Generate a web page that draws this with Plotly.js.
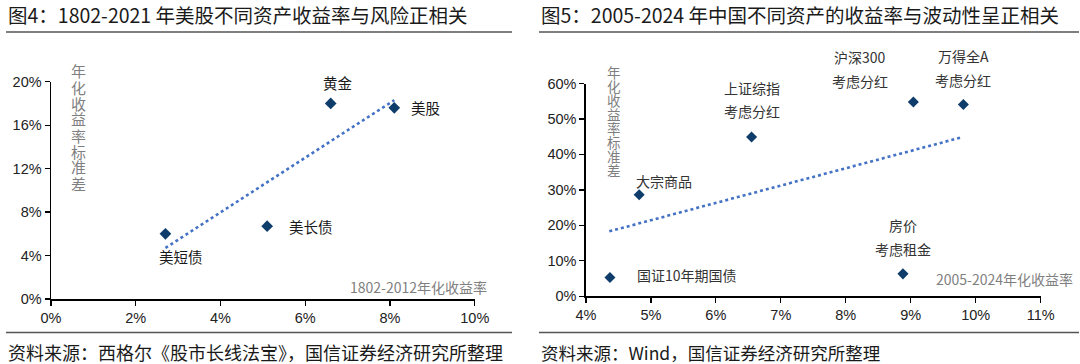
<!DOCTYPE html>
<html><head><meta charset="utf-8">
<script src="https://cdn.plot.ly/plotly-3.0.1.min.js"></script>
<style>html,body{margin:0;padding:0;background:#fff}#chart{width:1080px;height:364px}</style>
</head><body><div id="chart"></div>
<script>
// ---- Figure 4 data (US assets, 1802-2012) ----
const usNames = ['美短债', '美长债', '黄金', '美股'];
const usReturn = [2.7, 5.1, 6.6, 8.1];      // 年化收益率 %
const usStd = [6.0, 6.7, 18.0, 17.6];       // 年化收益率标准差 %
const usTrendX = [2.7, 8.1];
const usTrendY = [4.7, 18.3];
const usXTicks = [0, 2, 4, 6, 8, 10];
const usYTicks = [0, 4, 8, 12, 16, 20];

// ---- Figure 5 data (China assets, 2005-2024) ----
const cnNames = ['国证10年期国债', '大宗商品', '上证综指|考虑分红', '沪深300|考虑分红', '万得全A|考虑分红', '房价|考虑租金'];
const cnReturn = [4.37, 4.82, 6.55, 9.04, 9.81, 8.88];
const cnStd = [5.25, 28.6, 44.9, 54.8, 54.1, 6.3];
const cnTrendX = [4.36, 9.78];
const cnTrendY = [18.3, 44.8];
const cnXTicks = [4, 5, 6, 7, 8, 9, 10, 11];
const cnYTicks = [0, 10, 20, 30, 40, 50, 60];

const W = 1080, H = 364;
const fx = v => v / W, fy = v => 1 - v / H;
const CJK = '"Noto Sans CJK SC", "Noto Sans", sans-serif';
const TICKF = 'Liberation Sans, Arial, sans-serif';
const MARK = '#0E3D6B', TREND = '#4472C4';

const pct = a => a.map(v => v + '%');

const traces = [
  {x: usTrendX, y: usTrendY, xaxis: 'x', yaxis: 'y', mode: 'lines',
   line: {color: TREND, width: 2.6, dash: 'dot'}, hoverinfo: 'skip'},
  {x: usReturn, y: usStd, xaxis: 'x', yaxis: 'y', mode: 'markers', text: usNames,
   marker: {symbol: 'diamond', size: 9, color: MARK}},
  {x: cnTrendX, y: cnTrendY, xaxis: 'x2', yaxis: 'y2', mode: 'lines',
   line: {color: TREND, width: 2.6, dash: 'dot'}, hoverinfo: 'skip'},
  {x: cnReturn, y: cnStd, xaxis: 'x2', yaxis: 'y2', mode: 'markers', text: cnNames,
   marker: {symbol: 'diamond', size: 8.5, color: MARK}}
];

function axis(domain, range, ticks, anchor) {
  return {domain: domain, range: range, anchor: anchor, tickmode: 'array',
    tickvals: ticks, ticktext: pct(ticks), showgrid: false, zeroline: false,
    showline: true, linecolor: '#000', linewidth: 1.5, ticks: 'outside',
    ticklen: 5, tickwidth: 1.3, tickcolor: '#000',
    tickfont: {family: TICKF, size: 14.5, color: '#222'}, fixedrange: true};
}

const ann = [];
// titles and sources
ann.push({text: '图4：1802-2021 年美股不同资产收益率与风险正相关', x: fx(6), y: fy(15), xanchor: 'left', size: 19.5});
ann.push({text: '图5：2005-2024 年中国不同资产的收益率与波动性呈正相关', x: fx(539), y: fy(15), xanchor: 'left', size: 19.5});
ann.push({text: '资料来源：西格尔《股市长线法宝》，国信证券经济研究所整理', x: fx(6), y: fy(352), xanchor: 'left', size: 18});
ann.push({text: '资料来源：Wind，国信证券经济研究所整理', x: fx(539), y: fy(352), xanchor: 'left', size: 17.5});
ann.forEach(a => {
  a.xref = 'paper'; a.yref = 'paper'; a.showarrow = false; a.yanchor = 'middle';
  a.font = {family: CJK, size: a.size, color: '#1a1a1a'};
  delete a.size;
});

// vertical y-axis titles (one upright character per line)
function vTitle(str, xc, y0, step, size) {
  [...str].forEach((ch, i) => ann.push({text: ch, xref: 'paper', yref: 'paper',
    x: fx(xc), y: fy(y0 + step * i), xanchor: 'center', yanchor: 'middle', showarrow: false,
    font: {family: CJK, size: size, color: '#7f7f7f'}}));
}
vTitle('年化收益率标准差', 78.5, 71, 16, 15);
vTitle('年化收益率标准差', 614, 72, 14, 13.5);

// x-axis titles
ann.push({text: '1802-2012年化收益率', xref: 'paper', yref: 'paper', x: fx(489), y: fy(287),
  xanchor: 'right', yanchor: 'middle', showarrow: false, font: {family: CJK, size: 14, color: '#7f7f7f'}});
ann.push({text: '2005-2024年化收益率', xref: 'paper', yref: 'paper', x: fx(1075), y: fy(279),
  xanchor: 'right', yanchor: 'middle', showarrow: false, font: {family: CJK, size: 14, color: '#7f7f7f'}});

// point labels, figure 4
const usOff = [[16, -23, 'center'], [20, 0, 'left'], [7, 21, 'center'], [15, 0, 'left']];
usNames.forEach((n, i) => ann.push({text: n, xref: 'x', yref: 'y', x: usReturn[i], y: usStd[i],
  xshift: usOff[i][0], yshift: usOff[i][1], xanchor: usOff[i][2], yanchor: 'middle', showarrow: false,
  font: {family: CJK, size: 14.5, color: '#1a1a1a'}}));

// point labels, figure 5
const cnOff = [[[25, 3, 'left']], [[25, 14, 'center']], [[0, 49, 'center'], [0, 26, 'center']],
  [[-53, 44.5, 'center'], [-53, 21, 'center']], [[0, 48.5, 'center'], [0, 24.5, 'center']],
  [[0, 49, 'center'], [0, 25, 'center']]];
cnNames.forEach((n, i) => n.split('|').forEach((line, j) => ann.push({text: line, xref: 'x2', yref: 'y2',
  x: cnReturn[i], y: cnStd[i], xshift: cnOff[i][j][0], yshift: cnOff[i][j][1], xanchor: cnOff[i][j][2],
  yanchor: 'middle', showarrow: false, font: {family: CJK, size: 14, color: '#333'}})));

const lineShape = (x0, x1, y) => ({type: 'line', xref: 'paper', yref: 'paper',
  x0: fx(x0), x1: fx(x1), y0: fy(y), y1: fy(y), line: {color: '#555', width: 1.6}});

const layout = {
  width: W, height: H, margin: {l: 0, r: 0, t: 0, b: 0},
  paper_bgcolor: '#fff', plot_bgcolor: 'rgba(0,0,0,0)', showlegend: false,
  xaxis: axis([fx(51), fx(474.8)], [0, 10], usXTicks, 'y'),
  yaxis: axis([fy(299), fy(81.7)], [0, 20], usYTicks, 'x'),
  xaxis2: axis([fx(585.9), fx(1040.7)], [4, 11], cnXTicks, 'y2'),
  yaxis2: axis([fy(296.2), fy(83.5)], [0, 60], cnYTicks, 'x2'),
  annotations: ann,
  shapes: [lineShape(6, 512, 32), lineShape(539, 1079, 32), lineShape(6, 512, 332.5), lineShape(539, 1079, 332.5)]
};

Plotly.newPlot('chart', traces, layout, {displayModeBar: false, staticPlot: true});
</script></body></html>
